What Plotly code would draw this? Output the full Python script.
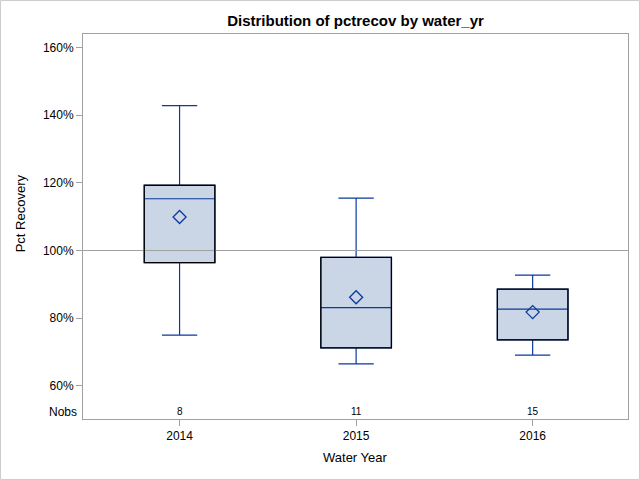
import plotly.graph_objects as go

years = ["2014", "2015", "2016"]
whisker_low = [75.0, 66.5, 69.1]
q1 = [96.4, 71.2, 73.6]
median = [115.3, 83.1, 82.7]
q3 = [119.3, 98.0, 88.6]
whisker_high = [142.8, 115.5, 92.7]
mean = [109.9, 86.2, 81.8]
nobs = [8, 11, 15]
ytick_vals = [60, 80, 100, 120, 140, 160]
ytick_text = [f"{v}%" for v in ytick_vals]

BLUE = "#0B3A9C"
FILL = "#CAD5E5"
FONT = "Liberation Sans, Arial, sans-serif"
BOX_W = 0.4

fig = go.Figure()
fig.add_trace(go.Box(
    x=years, q1=q1, median=median, q3=q3,
    lowerfence=whisker_low, upperfence=whisker_high,
    fillcolor=FILL, line=dict(color=BLUE, width=1.2),
    whiskerwidth=0.5, width=BOX_W, showlegend=False, hoverinfo="skip",
))
fig.add_trace(go.Scatter(
    x=years, y=mean, mode="markers",
    marker=dict(symbol="diamond-open", size=10, color=BLUE, line=dict(width=1.3, color=BLUE)),
    showlegend=False, hoverinfo="skip",
))

annotations = []
nobs_y = 52.4
for i, n in enumerate(nobs):
    annotations.append(dict(x=i, y=nobs_y, xref="x", yref="y", text=str(n),
                            xanchor="center", yanchor="middle",
                            showarrow=False, font=dict(size=10, color="black", family=FONT)))
annotations.append(dict(x=-0.0075, y=nobs_y, xref="paper", yref="y", text="Nobs",
                        xanchor="right", yanchor="middle", showarrow=False,
                        font=dict(size=12, color="black", family=FONT)))
annotations.append(dict(x=(20 - 83) / 545, y=111, xref="paper", yref="y", text="Pct Recovery",
                        textangle=-90, xanchor="center", yanchor="middle", showarrow=False,
                        font=dict(size=13, color="black", family=FONT)))
annotations.append(dict(x=0.5, y=(419 - 458) / 385, xref="paper", yref="paper", text="Water Year",
                        showarrow=False, xanchor="center", yanchor="middle",
                        font=dict(size=13, color="black", family=FONT)))

shapes = [
    dict(type="line", xref="paper", x0=0, x1=1, yref="y", y0=100, y1=100,
         line=dict(color="#A0A0A0", width=1), layer="above"),
    dict(type="rect", xref="paper", yref="paper",
         x0=(0.5 - 83) / 545, x1=(639.5 - 83) / 545,
         y0=(419 - 479.5) / 385, y1=(419 - 0.5) / 385,
         line=dict(color="#CCCCCC", width=1), fillcolor="rgba(0,0,0,0)", layer="below"),
]
# black outline of each box, from the quartile arrays
for i in range(len(years)):
    shapes.append(dict(type="rect", xref="x", yref="y",
                       x0=i - BOX_W / 2, x1=i + BOX_W / 2, y0=q1[i], y1=q3[i],
                       line=dict(color="black", width=1.3), fillcolor="rgba(0,0,0,0)",
                       layer="above"))

fig.update_layout(
    width=640, height=480,
    margin=dict(l=83, r=12, t=34, b=61),
    paper_bgcolor="white", plot_bgcolor="white",
    boxmode="overlay",
    font=dict(family=FONT, size=12, color="black"),
    title=dict(text="<b>Distribution of pctrecov by water_yr</b>", x=0.5, xref="paper",
               xanchor="center", y=(480 - 21) / 480, yanchor="middle",
               font=dict(size=15, family=FONT, color="black")),
    xaxis=dict(type="category", range=[-0.547, 2.54], showgrid=False, zeroline=False,
               showline=True, mirror=True, linecolor="#A0A0A0", linewidth=1,
               ticks="outside", ticklen=6, tickcolor="#A0A0A0",
               tickfont=dict(size=12, family=FONT, color="black")),
    yaxis=dict(range=[50.2, 164.0], showgrid=False, zeroline=False,
               showline=True, mirror=True, linecolor="#A0A0A0", linewidth=1,
               tickvals=ytick_vals, ticktext=ytick_text,
               ticks="outside", ticklen=6, tickcolor="#A0A0A0",
               tickfont=dict(size=12, family=FONT, color="black")),
    annotations=annotations,
    shapes=shapes,
)

fig.write_html("out.html", config={"displayModeBar": False},
               post_script="document.body.style.margin='0';document.body.style.overflow='hidden';")
